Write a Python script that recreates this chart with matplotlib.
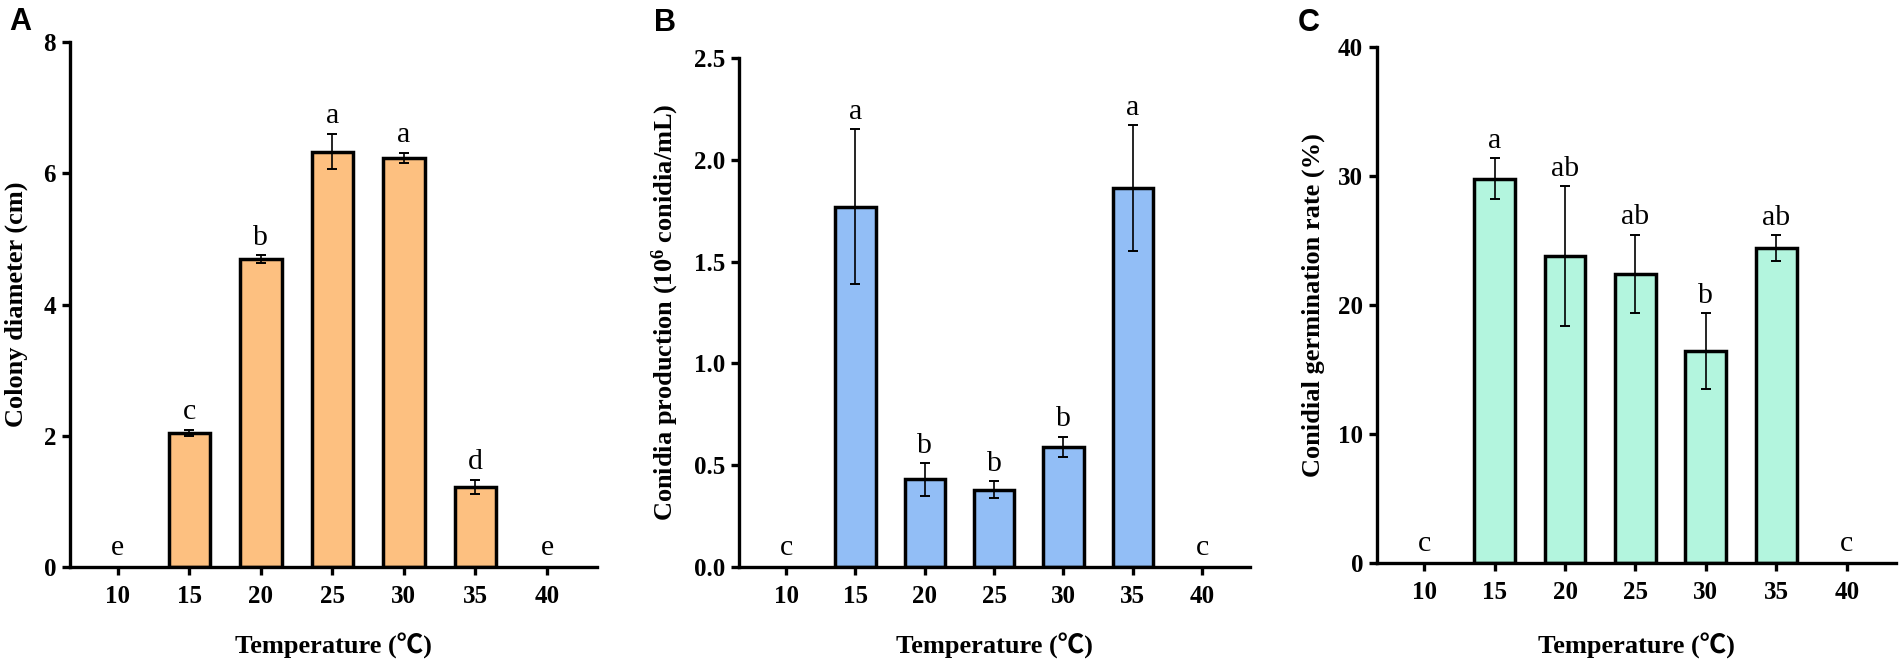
import numpy as np
import matplotlib
matplotlib.use('Agg')
import matplotlib.pyplot as plt

plt.rcParams['font.family'] = ['Liberation Serif', 'Noto Sans CJK SC']
plt.rcParams['mathtext.default'] = 'regular'

temps = ['10', '15', '20', '25', '30', '35', '40']

diam = [0, 2.04, 4.69, 6.33, 6.23, 1.22, 0]
diam_err = [0, 0.05, 0.06, 0.27, 0.08, 0.11, 0]
diam_sig = ['e', 'c', 'b', 'a', 'a', 'd', 'e']

conid = [0, 1.77, 0.43, 0.38, 0.59, 1.86, 0]
conid_err = [0, 0.38, 0.08, 0.04, 0.05, 0.31, 0]
conid_sig = ['c', 'a', 'b', 'b', 'b', 'a', 'c']

germ = [0, 29.8, 23.8, 22.4, 16.4, 24.4, 0]
germ_err = [0, 1.6, 5.4, 3.05, 2.95, 1.0, 0]
germ_sig = ['c', 'a', 'ab', 'ab', 'b', 'ab', 'c']

W, H = 1902, 669
fig = plt.figure(figsize=(W / 100, H / 100), dpi=100)

# box in pixels: left, right, top, bottom
def panel(box, vals, errs, sig, color, ylim, yticks, yticklabels, ylabel, xlim,
          letter, letter_xy, ylab_right):
    l, r, t, b = box
    ax = fig.add_axes([l / W, 1 - b / H, (r - l) / W, (b - t) / H])
    x = np.arange(len(temps))
    edges = ['black' if v > 0 else 'none' for v in vals]
    ax.bar(x, vals, width=0.58, color=color, edgecolor=edges, linewidth=2.5, zorder=2)
    for i in range(len(x)):
        if vals[i] > 0:
            ax.errorbar(x[i], vals[i], yerr=errs[i], color='black', elinewidth=1.2,
                        capsize=3.8, capthick=1.4, zorder=3)
    for i in range(len(x)):
        top = vals[i] + errs[i]
        ax.annotate(sig[i], (x[i], top), xytext=(0, 7.5 if vals[i] > 0 else 8.5),
                    textcoords='offset points', ha='center', va='baseline', fontsize=21.5)
    ax.set_xlim(*xlim)
    ax.set_ylim(*ylim)
    ax.set_xticks(x)
    ax.set_xticklabels(temps, fontsize=18, fontweight='bold')
    ax.set_yticks(yticks)
    ax.set_yticklabels(yticklabels, fontsize=18, fontweight='bold')
    ax.spines['top'].set_visible(False)
    ax.spines['right'].set_visible(False)
    ax.spines['left'].set_linewidth(2.4)
    ax.spines['bottom'].set_linewidth(2.4)
    ax.tick_params(axis='both', width=2.4, length=6, direction='out')
    ax.tick_params(axis='x', pad=7)
    ax.tick_params(axis='y', pad=4)
    ax.set_xlabel('Temperature (℃)', fontsize=19, fontweight='bold')
    ax.xaxis.label.set_va('center')
    ax.xaxis.set_label_coords(0.5, (b - 646) / (b - t))
    ax.set_ylabel(ylabel, fontsize=19, fontweight='bold')
    ax.yaxis.set_label_coords((ylab_right - l) / (r - l), 0.5)
    fig.text(letter_xy[0] / W, 1 - letter_xy[1] / H, letter, fontsize=22, fontweight='bold',
             family='Liberation Sans', ha='left', va='baseline')
    return ax

panel((70, 597, 42, 567), diam, diam_err, diam_sig, '#FDC080',
      (0, 8), [0, 2, 4, 6, 8], ['0', '2', '4', '6', '8'], 'Colony diameter (cm)',
      (-0.67, 6.70), 'A', (9, 30), 28)

panel((739, 1250, 58, 567), conid, conid_err, conid_sig, '#92BEF6',
      (0, 2.5), [0, 0.5, 1.0, 1.5, 2.0, 2.5], ['0.0', '0.5', '1.0', '1.5', '2.0', '2.5'],
      'Conidia production (10$^6$ conidia/mL)', (-0.68, 6.69), 'B', (654, 31), 681)

panel((1377, 1896, 47, 563), germ, germ_err, germ_sig, '#B3F5DE',
      (0, 40), [0, 10, 20, 30, 40], ['0', '10', '20', '30', '40'],
      'Conidial germination rate (%)', (-0.67, 6.70), 'C', (1298, 31), 1325)

fig.savefig('out.png', dpi=100)
